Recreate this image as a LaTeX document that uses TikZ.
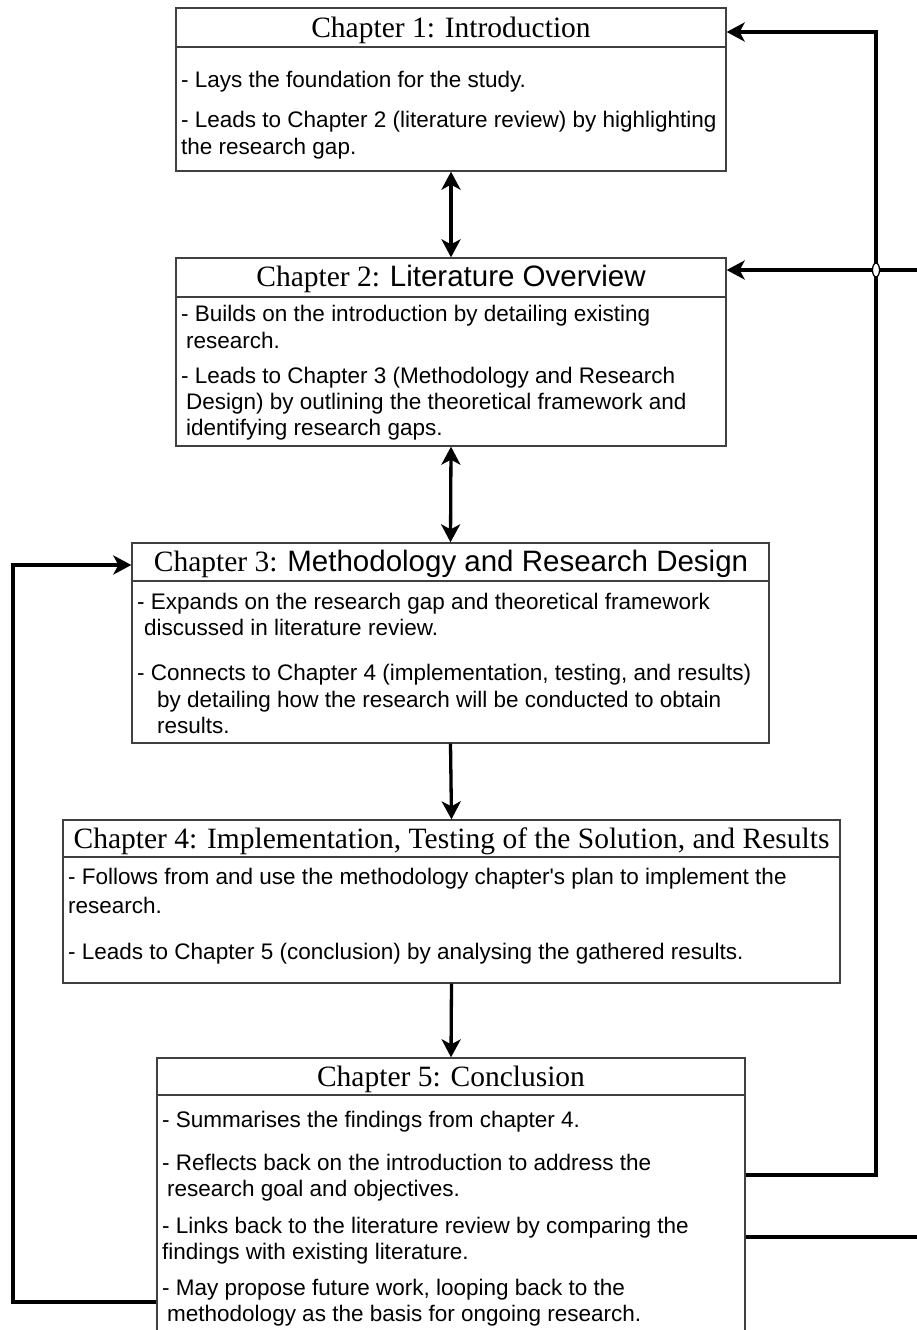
\documentclass[tikz,border=0pt]{standalone}
\usepackage{fontspec}
\setmainfont{Liberation Serif}
\newfontfamily\arialf{Liberation Sans}
\usetikzlibrary{arrows.meta}
\begin{document}
\begin{tikzpicture}[x=1pt,y=-1pt,
  chbox/.style={draw=black!75, line width=1.3pt, fill=white, inner sep=0pt, minimum width=#1},
  divline/.style={draw=black!75, line width=1.3pt},
  ttl/.style={inner sep=0pt, font=\fontsize{29.5}{35}\selectfont},
  bodytxt/.style={inner sep=0pt, anchor=north west, align=left, font=\arialf\fontsize{22.5}{27}\selectfont},
  conn/.style={line width=3.3pt, draw=black, miter limit=10},
  tip/.tip={Stealth[length=18pt,width=19pt,inset=5pt]}
]
\useasboundingbox (0,0) rectangle (917,1330);
\clip (0,0) rectangle (917,1330);

% boxes
\node[chbox=550pt, minimum height=163pt] (b1) at (451,89.5) {};
\node[chbox=550pt, minimum height=188pt] (b2) at (451,352) {};
\node[chbox=637pt, minimum height=200pt] (b3) at (450.5,643) {};
\node[chbox=777pt, minimum height=163pt] (b4) at (451.5,901.5) {};
\node[chbox=588pt, minimum height=287pt] (b5) at (451,1201.5) {};

% dividers
\draw[divline] (b1.west |- 0,47) -- (b1.east |- 0,47);
\draw[divline] (b2.west |- 0,297) -- (b2.east |- 0,297);
\draw[divline] (b3.west |- 0,581) -- (b3.east |- 0,581);
\draw[divline] (b4.west |- 0,857) -- (b4.east |- 0,857);
\draw[divline] (b5.west |- 0,1095) -- (b5.east |- 0,1095);

% titles
\node[ttl] (t1) at (451,30) {Chapter 1: Introduction};
\node[ttl] (t2) at (451,279) {Chapter 2: {\arialf Literature Overview}};
\node[ttl] (t3) at (451,564) {Chapter 3: {\arialf Methodology and Research Design}};
\node[ttl] (t4) at (451.5,841) {Chapter 4: Implementation, Testing of the Solution, and Results};
\node[ttl] (t5) at (451,1079) {Chapter 5: Conclusion};

% bodies
\node[bodytxt] (d1) at (181,68) {\strut- Lays the foundation for the study.\\[13pt]
- Leads to Chapter 2 (literature review) by highlighting\\
the research gap.};

\node[bodytxt] (d2) at (181,302) {\strut- Builds on the introduction by detailing existing\\
\hspace*{5pt}research.\\[8pt]
- Leads to Chapter 3 (Methodology and Research\\[-1pt]
\hspace*{5pt}Design) by outlining the theoretical framework and\\[-1pt]
\hspace*{5pt}identifying research gaps.};

\node[bodytxt] (d3) at (137,590) {\strut- Expands on the research gap and theoretical framework\\[-1pt]
\hspace*{7pt}discussed in literature review.\\[18pt]
- Connects to Chapter 4 (implementation, testing, and results)\\
\hspace*{20pt}by detailing how the research will be conducted to obtain\\[-1pt]
\hspace*{20pt}results.};

\node[bodytxt] (d4) at (68,865) {\strut- Follows from and use the methodology chapter's plan to implement the\\[2pt]
research.\\[19pt]
- Leads to Chapter 5 (conclusion) by analysing the gathered results.};

\node[bodytxt] (d5) at (162,1108) {\strut- Summarises the findings from chapter 4.\\[16pt]
- Reflects back on the introduction to address the\\[-1pt]
\hspace*{5pt}research goal and objectives.\\[10pt]
- Links back to the literature review by comparing the\\[-1pt]
findings with existing literature.\\[9pt]
- May propose future work, looping back to the\\[-1pt]
\hspace*{5pt}methodology as the basis for ongoing research.};

% vertical connectors
\draw[conn, tip-tip] (b1.south) -- (b2.north);
\draw[conn, tip-tip] (b2.south) -- (b3.north);
\draw[conn, -tip] (b3.south) -- (b4.north);
\draw[conn, -tip] (b4.south) -- (b5.north);

% feedback connectors
\coordinate (r1) at (876,1175);
\coordinate (r1t) at (876,32);
\draw[conn, -tip] (b5.east |- r1) -- (r1) -- (r1t) -- (b1.east |- r1t);

\coordinate (r2) at (935,1237);
\coordinate (r2t) at (935,270);
\draw[conn, -tip] (b5.east |- r2) -- (r2) -- (r2t) -- (b2.east |- r2t);

\coordinate (l1) at (13,1302);
\coordinate (l1t) at (13,565);
\draw[conn, -tip] (b5.west |- l1) -- (l1) -- (l1t) -- (b3.west |- l1t);

% line jump
\draw[line width=1.3pt, fill=white] (876,270) ellipse [x radius=3.5, y radius=7];
\end{tikzpicture}
\end{document}
